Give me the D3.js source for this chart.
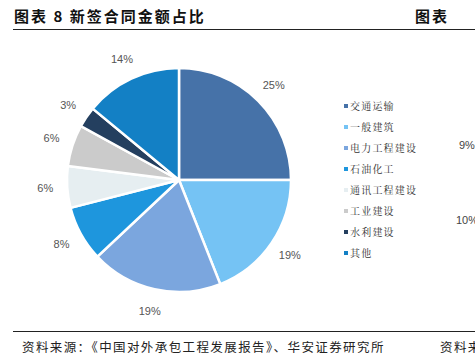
<!DOCTYPE html>
<html><head><meta charset="utf-8">
<script src="https://cdn.jsdelivr.net/npm/d3@7/dist/d3.min.js"></script>
<style>body{margin:0;background:#fff;}svg{display:block;}</style>
</head><body>
<svg id="c" width="475" height="362"></svg>
<script>
const categories = ["交通运输","一般建筑","电力工程建设","石油化工","通讯工程建设","工业建设","水利建设","其他"];
const values = [25,19,19,8,6,6,3,14];
const colors = ["#4672A8","#75C3F4","#7BA6DE","#1E96DD","#E6EEF1","#CBCBCB","#243F5F","#1380C5"];
const title = "图表 8 新签合同金额占比";
const source = "资料来源：《中国对外承包工程发展报告》、华安证券研究所";

const svg = d3.select("#c");
const cjk = "'Noto Sans CJK SC', sans-serif";
const num = "'Liberation Sans', Arial, sans-serif";

// header
svg.append("text").attr("x",14).attr("y",22).attr("font-family",cjk).attr("font-weight","bold")
  .attr("font-size",15).attr("letter-spacing",2).attr("fill","#111").text(title);
svg.append("text").attr("x",415).attr("y",22).attr("font-family",cjk).attr("font-weight","bold")
  .attr("font-size",15).attr("letter-spacing",2).attr("fill","#111").text("图表");
svg.append("line").attr("x1",13).attr("x2",475).attr("y1",29.5).attr("y2",29.5).attr("stroke","#222").attr("stroke-width",1);
// footer
svg.append("line").attr("x1",13).attr("x2",475).attr("y1",331.5).attr("y2",331.5).attr("stroke","#222").attr("stroke-width",1);
svg.append("text").attr("x",22).attr("y",352).attr("font-family",cjk).attr("font-size",12.5)
  .attr("letter-spacing",1.4).attr("fill","#222").text(source);
svg.append("text").attr("x",440).attr("y",352).attr("font-family",cjk).attr("font-size",12.5)
  .attr("letter-spacing",1.4).attr("fill","#222").text("资料来");
// fragment of neighbouring chart
svg.append("text").attr("x",459).attr("y",149).attr("font-family",num).attr("font-size",11).attr("fill","#444").text("9%");
svg.append("text").attr("x",456).attr("y",224).attr("font-family",num).attr("font-size",11).attr("fill","#444").text("10%");

const cx=179, cy=180, r=112, lr=134;
const pie = d3.pie().sort(null).value(d=>d)(values);
const arc = d3.arc().innerRadius(0).outerRadius(r);
const larc = d3.arc().innerRadius(lr).outerRadius(lr);
const g = svg.append("g").attr("transform",`translate(${cx},${cy})`);
g.selectAll("path").data(pie).join("path").attr("d",arc)
  .attr("fill",(d,i)=>colors[i]).attr("stroke","#fff").attr("stroke-width",2.5);
g.selectAll("text").data(pie).join("text")
  .attr("transform",d=>`translate(${larc.centroid(d)})`)
  .attr("text-anchor","middle").attr("dy","0.35em")
  .attr("font-family",num).attr("font-size",11).attr("fill","#555")
  .text(d=>d.data+"%");

// legend
const ly = d3.scalePoint().domain(categories).range([106,253]);
const lg = svg.append("g");
lg.selectAll("rect").data(categories).join("rect")
  .attr("x",344).attr("y",d=>ly(d)-2).attr("width",4).attr("height",4)
  .attr("fill",(d,i)=>colors[i]);
lg.selectAll("text").data(categories).join("text")
  .attr("x",350).attr("y",d=>ly(d)).attr("dy","0.35em")
  .attr("font-family","'Noto Serif CJK SC', 'Noto Sans CJK SC', serif").attr("font-size",10)
  .attr("letter-spacing",1.2).attr("fill","#333")
  .text(d=>d);
</script>
</body></html>
